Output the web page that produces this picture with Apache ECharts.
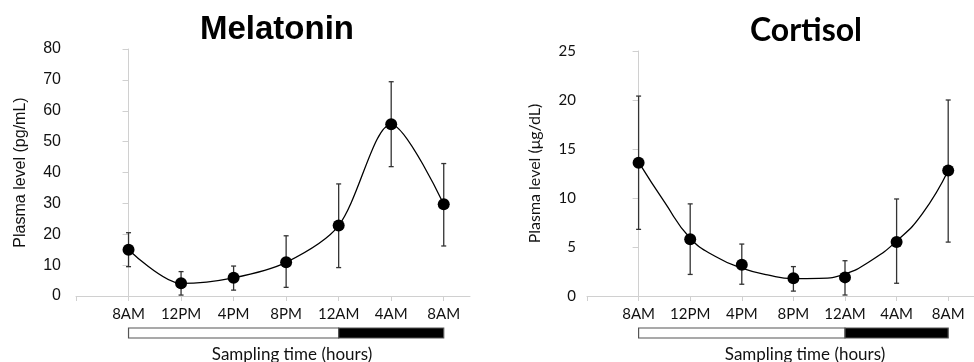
<!DOCTYPE html>
<html><head><meta charset="utf-8">
<script src="https://cdn.jsdelivr.net/npm/echarts@6/dist/echarts.min.js"></script>
<style>html,body{margin:0;padding:0;background:#fff}#c{width:974px;height:362px}</style>
</head><body><div id="c"></div>
<script>
const categories = ['8AM','12PM','4PM','8PM','12AM','4AM','8AM'];
const melatonin = [15.0, 4.1, 5.9, 10.9, 22.8, 55.6, 29.7];
const melatoninHigh = [20.5, 7.9, 9.7, 19.5, 36.3, 69.4, 42.9];
const melatoninLow = [9.5, 0.3, 1.9, 2.8, 9.2, 41.9, 16.2];
const cortisol = [13.6, 5.8, 3.2, 1.8, 1.9, 5.5, 12.8];
const cortisolHigh = [20.4, 9.4, 5.3, 3.0, 3.6, 9.9, 20.0];
const cortisolLow = [6.8, 2.2, 1.2, 0.5, 0.1, 1.3, 5.5];
// fitted curve, at every half step of the time axis
const cortisolTrendX = [0, 0.5, 1, 1.5, 2, 2.5, 3, 3.5, 4, 4.5, 5, 5.5, 6];
const cortisolTrendY = [13.66, 9.6, 5.9, 4.0, 2.85, 2.15, 1.78, 1.8, 2.25, 3.6, 5.6, 8.4, 12.8];
const melatoninTicks = [0,10,20,30,40,50,60,70,80];
const cortisolTicks = [0,5,10,15,20,25];
const lightDarkStart = [0, 4];
const lightDarkEnd = [4, 6];
const lightDarkColor = ['#ffffff', '#000000'];

const idx = categories.map((_, i) => i);
const pts = arr => arr.map((v, i) => [i, v]);
const errData = (lo, hi) => lo.map((v, i) => [i, v, hi[i]]);
const segData = lightDarkStart.map((s, i) => [s, lightDarkEnd[i], lightDarkColor[i]]);
const trendData = cortisolTrendX.map((x, i) => [x, cortisolTrendY[i]]);

function errRender(params, api) {
  const x = api.value(0);
  const a = api.coord([x, api.value(1)]);
  const b = api.coord([x, api.value(2)]);
  const st = {stroke: '#333', lineWidth: 1.3};
  const w = 2.5;
  return {type: 'group', children: [
    {type: 'line', shape: {x1: a[0], y1: a[1], x2: b[0], y2: b[1]}, style: st},
    {type: 'line', shape: {x1: a[0]-w, y1: a[1], x2: a[0]+w, y2: a[1]}, style: st},
    {type: 'line', shape: {x1: b[0]-w, y1: b[1], x2: b[0]+w, y2: b[1]}, style: st}
  ]};
}
function segRender(params, api) {
  const p0 = api.coord([api.value(0), 1]);
  const p1 = api.coord([api.value(1), 0]);
  return {type: 'rect', shape: {x: p0[0], y: p0[1], width: p1[0]-p0[0], height: p1[1]-p0[1]},
    style: {fill: lightDarkColor[params.dataIndex], stroke: '#555', lineWidth: 1.2}};
}

const axisGray = '#d0d0d0';
function xMain(gi) {
  return {type: 'value', gridIndex: gi, min: -1, max: 6.5,
    splitLine: {show: false},
    axisLine: {lineStyle: {color: axisGray, width: 1}},
    axisTick: {show: true, length: 5, lineStyle: {color: axisGray}, customValues: [-1].concat(idx)},
    axisLabel: {customValues: idx, formatter: v => categories[Math.round(v)], color: '#111',
      fontFamily: 'Lato', fontSize: 15, margin: 11}};
}
function yMain(gi, ticks, fam, size, margin, name, nameGap) {
  return {type: 'value', gridIndex: gi, min: ticks[0], max: ticks[ticks.length-1],
    interval: ticks[1]-ticks[0],
    splitLine: {show: false},
    axisLine: {show: true, lineStyle: {color: axisGray}},
    axisTick: {show: true, length: 6, lineStyle: {color: axisGray}},
    axisLabel: {color: '#111', fontFamily: fam, fontSize: size, margin: margin},
    name: name, nameLocation: 'middle', nameGap: nameGap, nameRotate: 90,
    nameTextStyle: {color: '#111', fontFamily: fam, fontSize: 16}};
}

const chart = echarts.init(document.getElementById('c'), null, {renderer: 'canvas'});
chart.setOption({
  animation: false,
  backgroundColor: '#fff',
  title: [
    {text: 'Melatonin', left: 272, top: 8, textAlign: 'center',
      textStyle: {fontFamily: 'Liberation Sans', fontWeight: 'bold', fontSize: 33, color: '#000'}},
    {text: 'Cortisol', left: 801, top: 10, textAlign: 'center',
      textStyle: {fontFamily: 'Lato', fontWeight: 'bold', fontSize: 32, color: '#000'}},
    {text: 'Sampling time (hours)', left: 287, top: 341, textAlign: 'center',
      textStyle: {fontFamily: 'Lato', fontWeight: 'normal', fontSize: 17, color: '#111'}},
    {text: 'Sampling time (hours)', left: 800, top: 341, textAlign: 'center',
      textStyle: {fontFamily: 'Lato', fontWeight: 'normal', fontSize: 17, color: '#111'}}
  ],
  grid: [
    {left: 76, top: 49, width: 394, height: 247},
    {left: 587, top: 51, width: 396, height: 245},
    {left: 76, top: 328, width: 394, height: 10},
    {left: 587, top: 328, width: 396, height: 10}
  ],
  xAxis: [
    xMain(0), xMain(1),
    {type: 'value', gridIndex: 2, min: -1, max: 6.5, show: false},
    {type: 'value', gridIndex: 3, min: -1, max: 6.5, show: false}
  ],
  yAxis: [
    yMain(0, melatoninTicks, 'Liberation Sans', 16, 15, 'Plasma level (pg/mL)', 47),
    yMain(1, cortisolTicks, 'Lato', 15, 11, 'Plasma level (μg/dL)', 44),
    {type: 'value', gridIndex: 2, min: 0, max: 1, show: false},
    {type: 'value', gridIndex: 3, min: 0, max: 1, show: false}
  ],
  series: [
    {type: 'custom', xAxisIndex: 0, yAxisIndex: 0, renderItem: errRender, data: errData(melatoninLow, melatoninHigh), z: 2},
    {type: 'line', xAxisIndex: 0, yAxisIndex: 0, data: pts(melatonin), smooth: 0.3,
      symbol: 'circle', symbolSize: 12, itemStyle: {color: '#000', opacity: 1},
      lineStyle: {color: '#000', width: 1.3}, z: 3},
    {type: 'custom', xAxisIndex: 1, yAxisIndex: 1, renderItem: errRender, data: errData(cortisolLow, cortisolHigh), z: 2},
    {type: 'line', xAxisIndex: 1, yAxisIndex: 1, data: trendData, smooth: 0.5,
      symbol: 'none', lineStyle: {color: '#000', width: 1.3}, z: 3},
    {type: 'scatter', xAxisIndex: 1, yAxisIndex: 1, data: pts(cortisol),
      symbol: 'circle', symbolSize: 12, itemStyle: {color: '#000', opacity: 1}, z: 4},
    {type: 'custom', xAxisIndex: 2, yAxisIndex: 2, renderItem: segRender, data: segData},
    {type: 'custom', xAxisIndex: 3, yAxisIndex: 3, renderItem: segRender, data: segData}
  ]
});
</script></body></html>
